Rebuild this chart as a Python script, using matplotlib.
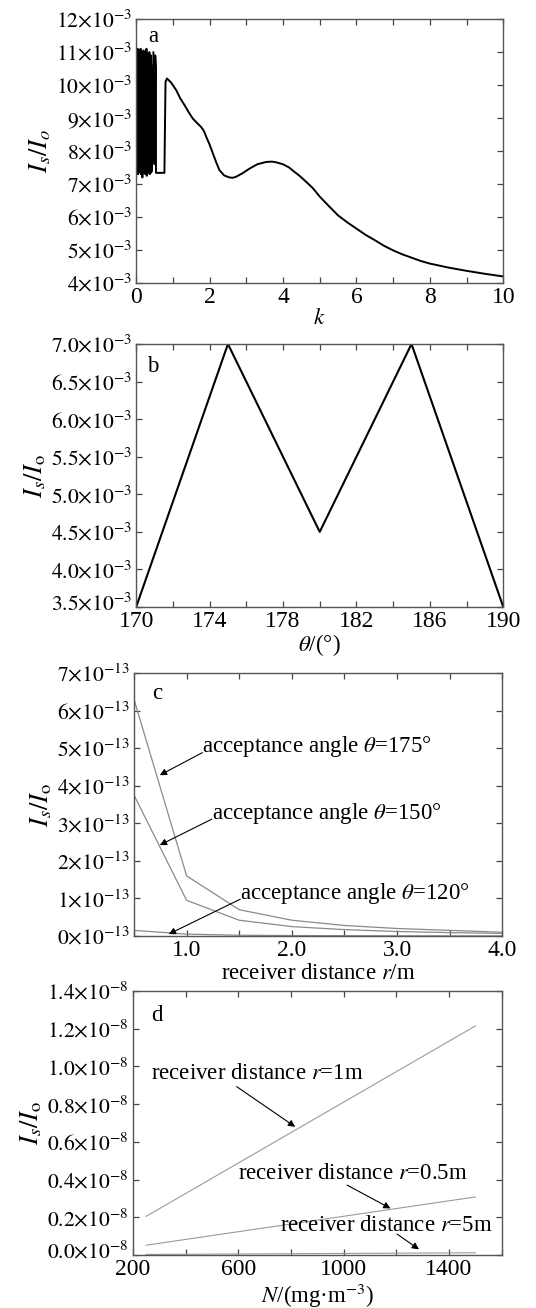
import matplotlib
matplotlib.use("Agg")
import matplotlib.pyplot as plt
import matplotlib.transforms as mtrans
import numpy as np
from matplotlib.ticker import MultipleLocator, FixedLocator, FixedFormatter

plt.rcParams['font.family'] = ['Liberation Serif', 'DejaVu Serif']
plt.rcParams['mathtext.fontset'] = 'stix'
plt.rcParams['font.size'] = 16.5

# ---- panel a: I_s/I_o vs k (units 1e-3)
osc_hi = [11.0, 10.9, 11.1, 10.7, 11.05, 10.95, 11.1, 10.8, 11.0, 10.6, 11.05,
          10.9, 11.0, 10.7, 11.1, 10.85, 10.95, 10.5, 11.0, 10.8, 10.9, 10.6]
osc_lo = [7.4, 7.5, 7.3, 7.45, 7.35, 7.6, 7.3, 7.4, 7.2, 7.5, 7.35,
          7.45, 7.3, 7.4, 7.25, 7.5, 7.35, 7.4, 7.3, 7.45, 7.35, 7.4]
k_tail = [0.47, 0.50, 0.52, 0.54, 0.54, 0.77, 0.80, 0.84, 0.95, 1.09, 1.2,
          1.32, 1.43, 1.54, 1.65, 1.77, 1.85, 1.91, 2.0, 2.09, 2.18, 2.27,
          2.4, 2.54, 2.63, 2.72, 2.9, 3.09, 3.3, 3.54, 3.7, 3.81, 4.0, 4.17,
          4.3, 4.45, 4.6, 4.81, 5.0, 5.26, 5.5, 5.75, 6.0, 6.25, 6.5, 6.75,
          7.0, 7.25, 7.5, 7.75, 8.0, 8.5, 9.0, 9.5, 10.0]
v_tail = [11.0, 7.6, 10.9, 10.5, 7.34, 7.34, 10.1, 10.2, 10.08, 9.85, 9.6,
          9.39, 9.18, 8.99, 8.86, 8.73, 8.6, 8.43, 8.2, 7.93, 7.66, 7.42,
          7.26, 7.2, 7.19, 7.22, 7.33, 7.47, 7.6, 7.67, 7.68, 7.66, 7.6, 7.5,
          7.38, 7.25, 7.1, 6.88, 6.62, 6.32, 6.05, 5.84, 5.65, 5.46, 5.3, 5.13,
          4.99, 4.87, 4.77, 4.67, 4.59, 4.47, 4.37, 4.28, 4.2]

# ---- panel b: I_s/I_o vs theta (units 1e-3)
theta = [170, 175, 180, 185, 190]
ratio_b = [3.5, 7.0, 4.5, 7.0, 3.5]

# ---- panel c: vs receiver distance (units 1e-13)
r_dist = [0.5, 1.0, 1.5, 2.0, 2.5, 3.0, 3.5, 4.0]
c_175 = [6.3, 1.6, 0.7, 0.42, 0.28, 0.2, 0.15, 0.1]
c_150 = [3.75, 0.95, 0.42, 0.25, 0.17, 0.12, 0.09, 0.07]
c_120 = [0.15, 0.05, 0.02, 0.012, 0.008, 0.005, 0.004, 0.003]

# ---- panel d: vs N (units 1e-8)
N_conc = [250, 1500]
d_1m = [0.205, 1.215]
d_05m = [0.052, 0.308]
d_5m = [0.003, 0.012]

fig = plt.figure(figsize=(5.36, 13.08), dpi=100)
ax_a = fig.add_axes([0.254, 0.7836, 0.685, 0.2018])
ax_b = fig.add_axes([0.254, 0.5359, 0.685, 0.2011])
ax_c = fig.add_axes([0.250, 0.2844, 0.687, 0.2011])
ax_d = fig.add_axes([0.248, 0.0405, 0.688, 0.2018])

def style(ax):
    for s in ax.spines.values():
        s.set_color('#555555')
        s.set_linewidth(1.0)
    ax.tick_params(which='both', direction='in', top=True, right=True,
                   length=4, width=0.9, color='#444444')
    ax.tick_params(axis='y', labelsize=15.5, pad=3)
    ax.tick_params(axis='x', labelsize=17, pad=3)

def ylabels(ax, vals, fmt, exp):
    ax.yaxis.set_major_locator(FixedLocator(vals))
    ax.yaxis.set_major_formatter(FixedFormatter(
        [r"$" + fmt.format(v) + r"{\times}10^{-" + exp + "}$" for v in vals]))

def lift_bottom_label(ax, pts=4):
    # nudge lowest y tick label up so it clears the first x tick label
    lbl = ax.yaxis.get_major_ticks()[0].label1
    lbl.set_transform(lbl.get_transform() +
                      mtrans.ScaledTranslation(0, pts / 72, fig.dpi_scale_trans))

ylab = r"$I_s/I_\mathrm{o}$"
ylab_size = 19

# a
k_osc = []
v_osc = []
for i in range(len(osc_hi)):
    k_osc += [0.02 * i, 0.02 * i + 0.01]
    v_osc += [osc_hi[i], osc_lo[i]]
ax_a.plot(k_osc + k_tail, v_osc + v_tail, color='k', lw=1.4)
ax_a.set_xlim(0, 10)
ax_a.set_ylim(4, 12)
ax_a.xaxis.set_major_locator(MultipleLocator(2))
ax_a.xaxis.set_minor_locator(MultipleLocator(1))
ylabels(ax_a, list(range(4, 13)), "{:d}", "3")
ax_a.set_xlabel(r"$k$", labelpad=0)
ax_a.set_ylabel(r"$I_s/I_o$", fontsize=ylab_size, labelpad=2)
ax_a.text(0.47, 11.46, "a", ha='center', va='center')
style(ax_a)

# b
ax_b.plot(theta, ratio_b, color='k', lw=1.5)
ax_b.set_xlim(170, 190)
ax_b.set_ylim(3.5, 7.0)
ax_b.xaxis.set_major_locator(FixedLocator([170, 174, 178, 182, 186, 190]))
ax_b.xaxis.set_minor_locator(MultipleLocator(2))
ylabels(ax_b, [3.5, 4.0, 4.5, 5.0, 5.5, 6.0, 6.5, 7.0], "{:.1f}", "3")
ax_b.set_xlabel(r"$\theta$/(°)", labelpad=0)
ax_b.set_ylabel(ylab, fontsize=ylab_size, labelpad=2)
ax_b.text(170.9, 6.70, "b", ha='center', va='center')
style(ax_b)

# c
line_c = dict(color='#8a8a8a', lw=0.9)
ax_c.plot(r_dist, c_175, **line_c)
ax_c.plot(r_dist, c_150, **line_c)
ax_c.plot(r_dist, c_120, **line_c)
ax_c.set_xlim(0.5, 4.0)
ax_c.set_ylim(0, 7)
ax_c.xaxis.set_major_locator(FixedLocator([1.0, 2.0, 3.0, 4.0]))
ax_c.xaxis.set_major_formatter(FixedFormatter(["1.0", "2.0", "3.0", "4.0"]))
ax_c.xaxis.set_minor_locator(MultipleLocator(0.5))
ylabels(ax_c, list(range(0, 8)), "{:d}", "13")
ax_c.set_xlabel(r"receiver distance $r$/m", labelpad=1)
ax_c.set_ylabel(ylab, fontsize=ylab_size, labelpad=2)
ax_c.text(0.72, 6.45, "c", ha='center', va='center')
arr = dict(arrowstyle='-|>', color='k', lw=0.8, mutation_scale=10,
           shrinkA=0, shrinkB=0)
c_notes = [("175", 1.15, 5.03, 0.745, 4.28),
           ("150", 1.24, 3.26, 0.745, 2.42),
           ("120", 1.51, 1.13, 0.83, 0.05)]
for ang, tx, ty, ax_x, ax_y in c_notes:
    ax_c.text(tx, ty, r"acceptance angle $\theta$=175°".replace("175", ang),
              ha='left', va='center')
    ax_c.annotate("", xy=(ax_x, ax_y), xytext=(tx, ty - 0.15), arrowprops=arr)
style(ax_c)

# d
line_d = dict(color='#9a9a9a', lw=0.8)
ax_d.plot(N_conc, d_1m, **line_d)
ax_d.plot(N_conc, d_05m, **line_d)
ax_d.plot(N_conc, d_5m, **line_d)
ax_d.set_xlim(200, 1600)
ax_d.set_ylim(0, 1.4)
ax_d.xaxis.set_major_locator(FixedLocator([200, 600, 1000, 1400]))
ax_d.xaxis.set_minor_locator(MultipleLocator(200))
ylabels(ax_d, [0.0, 0.2, 0.4, 0.6, 0.8, 1.0, 1.2, 1.4], "{:.1f}", "8")
ax_d.set_xlabel(r"$N$/(mg·m$^{-3}$)", labelpad=1)
ax_d.set_ylabel(ylab, fontsize=ylab_size, labelpad=2)
ax_d.text(270, 1.27, "d", ha='left', va='center')
d_notes = [("1m", 270, 0.963, 594, 0.893, 816, 0.68),
           ("0.5m", 600, 0.43, 1013, 0.371, 1178, 0.247),
           ("5m", 759, 0.154, 1203, 0.111, 1286, 0.03)]
for lab, tx, ty, sx, sy, ex, ey in d_notes:
    ax_d.text(tx, ty, r"receiver distance $r$=" + lab, ha='left', va='center')
    ax_d.annotate("", xy=(ex, ey), xytext=(sx, sy), arrowprops=arr)
style(ax_d)

lift_bottom_label(ax_b)
lift_bottom_label(ax_d)

fig.savefig("out.png", dpi=100)
